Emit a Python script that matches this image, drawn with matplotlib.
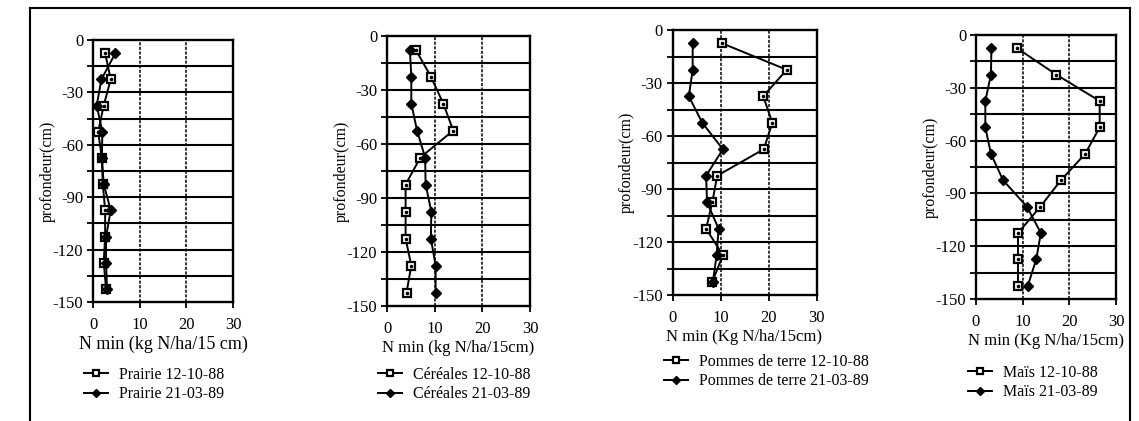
import matplotlib
matplotlib.use("Agg")
import matplotlib.pyplot as plt
from matplotlib.lines import Line2D
import numpy as np

plt.rcParams['font.family'] = ['Liberation Serif', 'DejaVu Serif']

depth = [-7.5, -22.5, -37.5, -52.5, -67.5, -82.5, -97.5, -112.5, -127.5, -142.5]

prairie_oct = [2.6, 3.8, 2.3, 1.1, 1.9, 2.1, 2.6, 2.6, 2.3, 2.8]
prairie_mar = [4.8, 1.8, 0.8, 2.0, 1.9, 2.3, 3.8, 2.8, 2.8, 3.0]
cereales_oct = [6.0, 9.2, 11.8, 13.9, 7.0, 3.9, 3.9, 3.9, 5.1, 4.1]
cereales_mar = [4.8, 5.1, 5.1, 6.3, 8.0, 8.1, 9.3, 9.2, 10.2, 10.2]
pdt_oct = [10.3, 23.8, 18.9, 20.8, 19.0, 9.3, 8.3, 7.0, 10.5, 8.3]
pdt_mar = [4.2, 4.2, 3.4, 6.2, 10.5, 7.0, 7.2, 9.6, 9.2, 8.4]
mais_oct = [8.8, 17.2, 26.5, 26.5, 23.4, 18.2, 13.8, 9.0, 9.0, 9.0]
mais_mar = [3.3, 3.2, 2.0, 2.0, 3.2, 5.8, 10.9, 13.9, 12.9, 11.1]

x_ticks = [0, 10, 20, 30]
x_ticklabels = ["0", "10", "20", "30"]
y_ticks = [0, -30, -60, -90, -120, -150]
y_ticklabels = ["0", "-30", "-60", "-90", "-120", "-150"]

xlabels = ["N min (kg N/ha/15 cm)", "N min (kg N/ha/15cm)",
           "N min (Kg N/ha/15cm)", "N min (Kg N/ha/15cm)"]
xlabel_sizes = [13, 12, 12, 12]
legend_labels = [("Prairie 12-10-88", "Prairie 21-03-89"),
                 ("Céréales 12-10-88", "Céréales 21-03-89"),
                 ("Pommes de terre 12-10-88", "Pommes de terre 21-03-89"),
                 ("Maïs 12-10-88", "Maïs 21-03-89")]
series = [(prairie_oct, prairie_mar), (cereales_oct, cereales_mar),
          (pdt_oct, pdt_mar), (mais_oct, mais_mar)]

W, H = 1139, 421
fig = plt.figure(figsize=(W / 100, H / 100), dpi=100)

# axes boxes in pixels: left, right, top, bottom
boxes = [(93, 233, 40, 302), (387, 530, 36, 306), (672.5, 816.5, 30, 295), (976, 1116, 35, 299)]
# legend anchor (pixels): x of handle start, y top
leg_pos = [(84, 367), (378, 367), (664, 354), (968, 365)]

def fx(px):
    return px / W

def fy(py):
    return 1 - py / H

for i, (box, (s_oct, s_mar)) in enumerate(zip(boxes, series)):
    l, r, t, b = box
    ax = fig.add_axes([fx(l), fy(b), fx(r - l), (b - t) / H])
    ax.set_xlim(0, 30)
    ax.set_ylim(-150, 0)
    for yy in np.arange(-135, 0, 15):
        ax.axhline(yy, color='black', lw=1.5, zorder=1)
    for xx in [10, 20]:
        ax.axvline(xx, color='black', lw=1.1, ls=(0, (2, 1)), zorder=1)
    h1, = ax.plot(s_oct, depth, color='black', lw=1.4, marker='s', ms=6,
                  mfc='white', mec='black', mew=1.6, zorder=3)
    ax.plot(s_oct, depth, ls='none', marker='o', ms=1.6, mfc='black', mec='black', zorder=3.5)
    h2, = ax.plot(s_mar, depth, color='black', lw=1.4, marker='D', ms=5,
                  mfc='black', mec='black', zorder=4)
    ax.set_xticks(x_ticks)
    ax.set_xticklabels(x_ticklabels)
    ax.set_yticks(y_ticks)
    ax.set_yticklabels(y_ticklabels)
    ax.set_yticks(np.arange(-135, 0, 30), minor=True)
    ax.tick_params(axis='both', direction='out', length=4, width=1.3, labelsize=12, colors='black')
    ax.tick_params(axis='y', which='minor', direction='out', length=4, width=1.3)
    ax.tick_params(axis='x', pad=7)
    ax.tick_params(axis='y', pad=3)
    for sp in ax.spines.values():
        sp.set_linewidth(1.7)
        sp.set_color('black')
    ax.set_ylabel("profondeur(cm)", fontsize=11.5, labelpad=-2)
    ax.set_xlabel(xlabels[i], fontsize=xlabel_sizes[i], labelpad=2)
    lx, ly = leg_pos[i]
    fig.legend([h1, h2], list(legend_labels[i]), loc='upper left',
               bbox_to_anchor=(fx(lx), fy(ly)), frameon=False, fontsize=11.5,
               handlelength=1.5, handletextpad=0.7, labelspacing=0.2,
               borderpad=0, borderaxespad=0, markerscale=0.8)

# outer frame (left, top, right)
fig.add_artist(Line2D([fx(30), fx(30)], [0, fy(8)], color='black', lw=1.5))
fig.add_artist(Line2D([fx(30), fx(1130)], [fy(8), fy(8)], color='black', lw=1.5))
fig.add_artist(Line2D([fx(1130), fx(1130)], [fy(8), 0], color='black', lw=1.5))

fig.savefig("out.png", dpi=100)
